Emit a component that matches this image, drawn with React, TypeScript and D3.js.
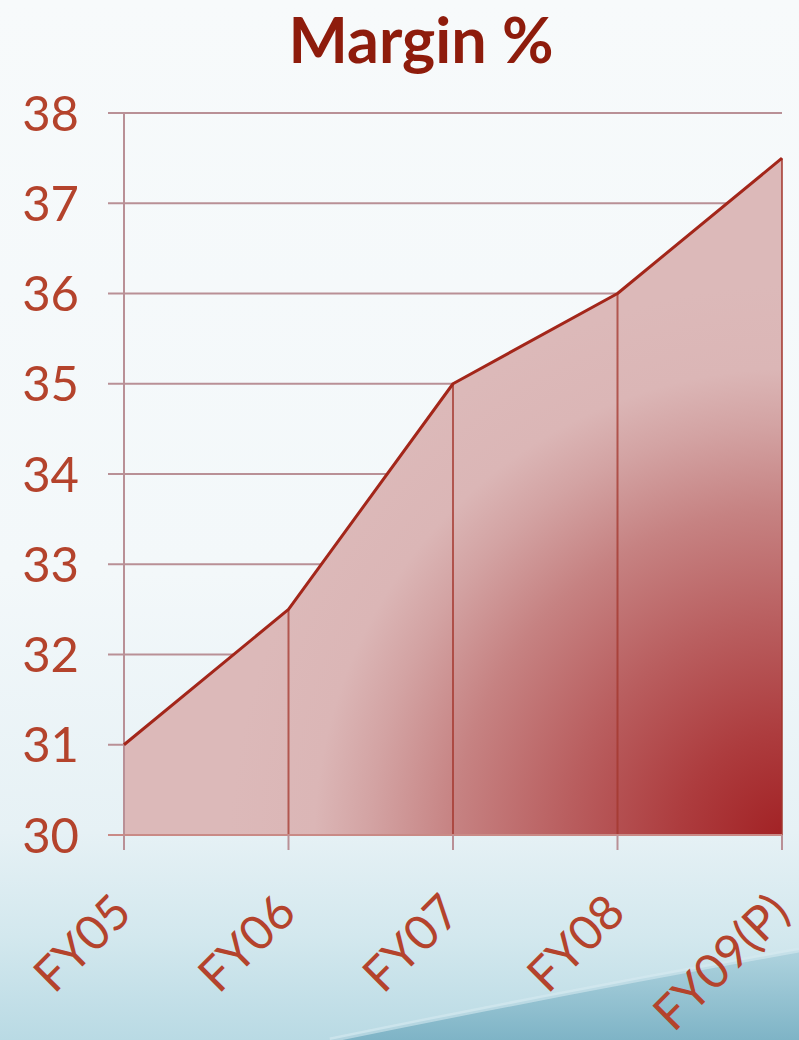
import React from "react";
import * as d3 from "d3";

const categories = ["FY05", "FY06", "FY07", "FY08", "FY09(P)"];
const margins = [31, 32.5, 35, 36, 37.5];
const yTicks = [30, 31, 32, 33, 34, 35, 36, 37, 38];
const title = "Margin %";

const W = 799;
const H = 1040;
const left = 124;
const right = 782;
const top = 113;
const bottom = 835;

export default function App() {
  const x = d3.scalePoint<string>().domain(categories).range([left, right]);
  const y = d3.scaleLinear().domain([30, 38]).range([bottom, top]);

  const pts = categories.map((c, i) => ({ c, v: margins[i] }));
  const area = d3
    .area<{ c: string; v: number }>()
    .x((d) => x(d.c) as number)
    .y0(y(30))
    .y1((d) => y(d.v));
  const line = d3
    .line<{ c: string; v: number }>()
    .x((d) => x(d.c) as number)
    .y((d) => y(d.v));

  const labelColor = "#b4432c";
  const gridColor = "#b99096";

  return (
    <div style={{ position: "fixed", left: 0, top: 0, width: W, height: H, overflow: "hidden" }}>
      <svg width={W} height={H} style={{ display: "block" }}>
        <defs>
          <linearGradient id="bg" x1="0" y1="0" x2="0" y2="1">
            <stop offset="0" stopColor="#f7fafb" />
            <stop offset="0.55" stopColor="#f3f8fa" />
            <stop offset="0.8" stopColor="#e6f1f5" />
            <stop offset="0.9" stopColor="#d3e8ee" />
            <stop offset="1" stopColor="#b9dae4" />
          </linearGradient>
          <linearGradient id="wave" x1="0" y1="0" x2="0" y2="1">
            <stop offset="0" stopColor="#a9d0dc" />
            <stop offset="1" stopColor="#74adc1" />
          </linearGradient>
          <radialGradient
            id="fill"
            gradientUnits="userSpaceOnUse"
            cx={790}
            cy={845}
            r={560}
          >
            <stop offset="0" stopColor="#a11f22" />
            <stop offset="0.2" stopColor="#ad3c3e" />
            <stop offset="0.4" stopColor="#b95e5f" />
            <stop offset="0.6" stopColor="#c68282" />
            <stop offset="0.75" stopColor="#d3a3a3" />
            <stop offset="0.85" stopColor="#dbb6b6" />
            <stop offset="1" stopColor="#dcb9b9" />
          </radialGradient>
        </defs>

        <rect x={0} y={0} width={W} height={H} fill="url(#bg)" />
        <path
          d={`M 330 ${H} C 500 1005, 660 975, ${W} 950 L ${W} ${H} Z`}
          fill="url(#wave)"
          opacity={0.85}
        />
        <path
          d={`M 330 ${H} C 500 1005, 660 975, ${W} 950`}
          fill="none"
          stroke="#d6eaf0"
          strokeWidth={5}
          opacity={0.6}
        />

        {/* horizontal gridlines with left tick stubs */}
        {yTicks.map((t) => (
          <line
            key={t}
            x1={108}
            x2={right}
            y1={y(t)}
            y2={y(t)}
            stroke={gridColor}
            strokeWidth={2}
          />
        ))}

        <path d={area(pts) || ""} fill="url(#fill)" />

        {/* drop lines from each point to the baseline */}
        {pts.slice(1).map((d) => (
          <line
            key={d.c}
            x1={x(d.c)}
            x2={x(d.c)}
            y1={y(d.v)}
            y2={y(30)}
            stroke="#a3352c"
            strokeOpacity={0.75}
            strokeWidth={2}
          />
        ))}

        {/* axes */}
        <line x1={left} x2={left} y1={top} y2={bottom + 15} stroke={gridColor} strokeWidth={2} />
        <line x1={108} x2={right} y1={bottom} y2={bottom} stroke="#c98a86" strokeWidth={2} />
        {categories.map((c) => (
          <line
            key={c}
            x1={x(c)}
            x2={x(c)}
            y1={bottom}
            y2={bottom + 15}
            stroke={gridColor}
            strokeWidth={2}
          />
        ))}

        <path d={line(pts) || ""} fill="none" stroke="#a3261a" strokeWidth={3} strokeLinejoin="round" />

        {/* y tick labels */}
        {yTicks.map((t) => (
          <text
            key={t}
            x={79}
            y={y(t)}
            dy="0.36em"
            textAnchor="end"
            fontFamily="Lato, 'Open Sans', sans-serif"
            fontSize={49}
            fill={labelColor}
          >
            {t}
          </text>
        ))}

        {/* category labels */}
        {categories.map((c) => (
          <text
            key={c}
            transform={`translate(${(x(c) as number) + 10},${bottom + 80}) rotate(-45)`}
            textAnchor="end"
            fontFamily="Lato, 'Open Sans', sans-serif"
            fontSize={48}
            fill={labelColor}
          >
            {c}
          </text>
        ))}

        <text
          x={421}
          y={63}
          textAnchor="middle"
          fontFamily="Lato, 'Open Sans', sans-serif"
          fontWeight={700}
          fontSize={64}
          textLength={265}
          lengthAdjust="spacingAndGlyphs"
          fill="#8e1c0c"
        >
          {title}
        </text>
      </svg>
    </div>
  );
}
